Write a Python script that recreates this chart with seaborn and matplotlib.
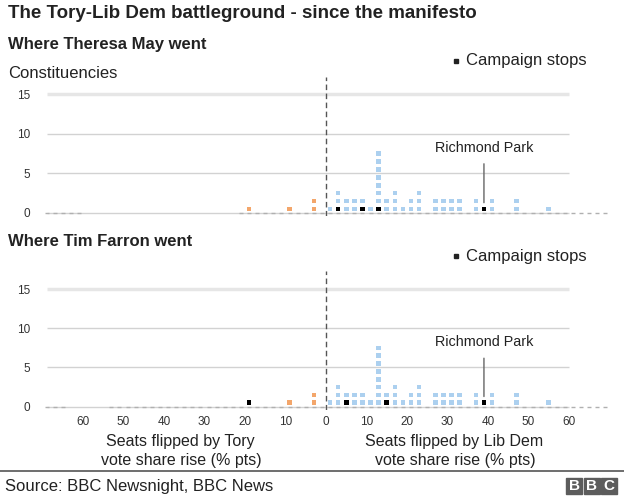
import numpy as np
import pandas as pd
import matplotlib
matplotlib.use("Agg")
import matplotlib.pyplot as plt
from matplotlib.lines import Line2D
from matplotlib.patches import Rectangle
import seaborn as sns

# ---------------- data ----------------
tory_bins = [-19, -9, -3]
tory_counts = [1, 1, 2]
ld_bins = [1, 3, 5, 7, 9, 11, 13, 15, 17, 19, 21, 23, 27, 29, 31, 33, 37, 39, 41, 47, 55]
ld_counts = [1, 3, 2, 2, 2, 1, 8, 2, 3, 1, 2, 3, 2, 2, 2, 2, 2, 1, 2, 2, 1]
may_stops = [3, 9, 13, 39]
farron_stops = [-19, 5, 15, 39]
richmond_park = 39
x_ticks = [-60, -50, -40, -30, -20, -10, 0, 10, 20, 30, 40, 50, 60]
x_tick_labels = ["60", "50", "40", "30", "20", "10", "0", "10", "20", "30", "40", "50", "60"]
y_ticks = [0, 5, 10, 15]
empty_top = [(-69, -61), (-21, 69)]
empty_bottom = [(-69, -65), (-53, 69)]

sns.set_theme(style="white")
plt.rcParams["font.family"] = ["Liberation Sans", "DejaVu Sans"]

COL = {"tory": "#f3a66b", "ld": "#acd0ef", "stop": "#000000"}
TXT = "#222222"


def build(stops):
    rows = []
    for side, bins, counts in (("tory", tory_bins, tory_counts), ("ld", ld_bins, ld_counts)):
        for b, c in zip(bins, counts):
            for k in range(c):
                kind = "stop" if (k == 0 and b in stops) else side
                rows.append({"x": b, "y": k + 0.5, "kind": kind})
    return pd.DataFrame(rows)


W, H = 624, 498
fig = plt.figure(figsize=(W / 100, H / 100), dpi=100)


def fx(px):
    return px / W


def fy(py):
    return 1 - py / H


panels = [
    dict(title="Where Theresa May went", stops=may_stops, empty=empty_top,
         top=77, bottom=216, ylim=(-0.38, 17.15), title_y=45, leg_y=61, show_x=False),
    dict(title="Where Tim Farron went", stops=farron_stops, empty=empty_bottom,
         top=271, bottom=410, ylim=(-0.42, 17.3), title_y=241, leg_y=256, show_x=True),
]

left_px, right_px = 42.5, 609.5
for p in panels:
    ax = fig.add_axes([fx(left_px), fy(p["bottom"]), fx(right_px - left_px),
                       (p["bottom"] - p["top"]) / H])
    ax.set_xlim(-70, 70)
    ax.set_ylim(*p["ylim"])
    for s in ax.spines.values():
        s.set_visible(False)

    # gridlines
    for yv in y_ticks:
        if yv == 15:
            ax.hlines(yv, -69, 60, color="#e6e6e6", lw=2.5, zorder=0)
        else:
            ax.hlines(yv, -69, 60, color="#d2d2d2", lw=1, zorder=0)

    # empty bin dashes
    for lo, hi in p["empty"]:
        bins = np.arange(lo, hi + 1, 2)
        ax.hlines(np.zeros(len(bins)), bins - 0.5, bins + 0.5, color="#b0b0b0", lw=1, zorder=1)

    ax.axvline(0, ymin=0, ymax=1, color="#555555", lw=1, ls=(0, (4, 2.5)), zorder=2)

    df = build(p["stops"])
    sns.scatterplot(data=df, x="x", y="y", hue="kind", palette=COL, marker="s",
                    s=11, linewidth=0, legend=False, ax=ax, zorder=3)

    ax.set_xlabel("")
    ax.set_ylabel("")
    ax.set_yticks(y_ticks)
    ax.set_yticklabels([str(v) for v in y_ticks])
    ax.tick_params(axis="y", length=0, pad=9, labelsize=8.5, labelcolor="#333333")
    if p["show_x"]:
        ax.set_xticks(x_ticks)
        ax.set_xticklabels(x_tick_labels)
        ax.tick_params(axis="x", length=0, pad=4, labelsize=8.5, labelcolor="#333333")
    else:
        ax.set_xticks([])

    ax.annotate("Richmond Park", xy=(richmond_park, 1.3), xytext=(richmond_park, 8.2),
                ha="center", va="center", fontsize=10.4, color=TXT,
                arrowprops=dict(arrowstyle="-", color="#666666", lw=1, shrinkA=4, shrinkB=0))

    fig.text(fx(8), fy(p["title_y"]), p["title"], fontsize=12, fontweight="bold",
             color=TXT, ha="left", va="center")
    fig.add_artist(Line2D([fx(456)], [fy(p["leg_y"])], marker="s", color="#222222",
                          markersize=3.2, linestyle="none", transform=fig.transFigure))
    fig.text(fx(466), fy(p["leg_y"]), "Campaign stops", fontsize=12, color=TXT,
             ha="left", va="center")

fig.text(fx(8), fy(13), "The Tory-Lib Dem battleground - since the manifesto",
         fontsize=13.5, fontweight="bold", color=TXT, ha="left", va="center")
fig.text(fx(8), fy(73), "Constituencies", fontsize=12, color=TXT, ha="left", va="center")

fig.text(fx(180), fy(441), "Seats flipped by Tory", fontsize=11.5, color=TXT, ha="center", va="center")
fig.text(fx(181), fy(460), "vote share rise (% pts)", fontsize=11.5, color=TXT, ha="center", va="center")
fig.text(fx(454), fy(441), "Seats flipped by Lib Dem", fontsize=11.5, color=TXT, ha="center", va="center")
fig.text(fx(455), fy(460), "vote share rise (% pts)", fontsize=11.5, color=TXT, ha="center", va="center")

# footer
fig.add_artist(Line2D([0, 1], [fy(471), fy(471)], color="#555555", lw=1.2, transform=fig.transFigure))
fig.text(fx(5), fy(486), "Source: BBC Newsnight, BBC News", fontsize=12, color=TXT,
         ha="left", va="center")
for i, letter in enumerate("BBC"):
    x0 = 566 + i * 17.5
    fig.add_artist(Rectangle((fx(x0), fy(494)), fx(16), 16 / H, color="#5c5c5c",
                             transform=fig.transFigure))
    fig.text(fx(x0 + 8), fy(486), letter, fontsize=11, fontweight="bold", color="white",
             ha="center", va="center")

fig.savefig("out.png", dpi=100)
